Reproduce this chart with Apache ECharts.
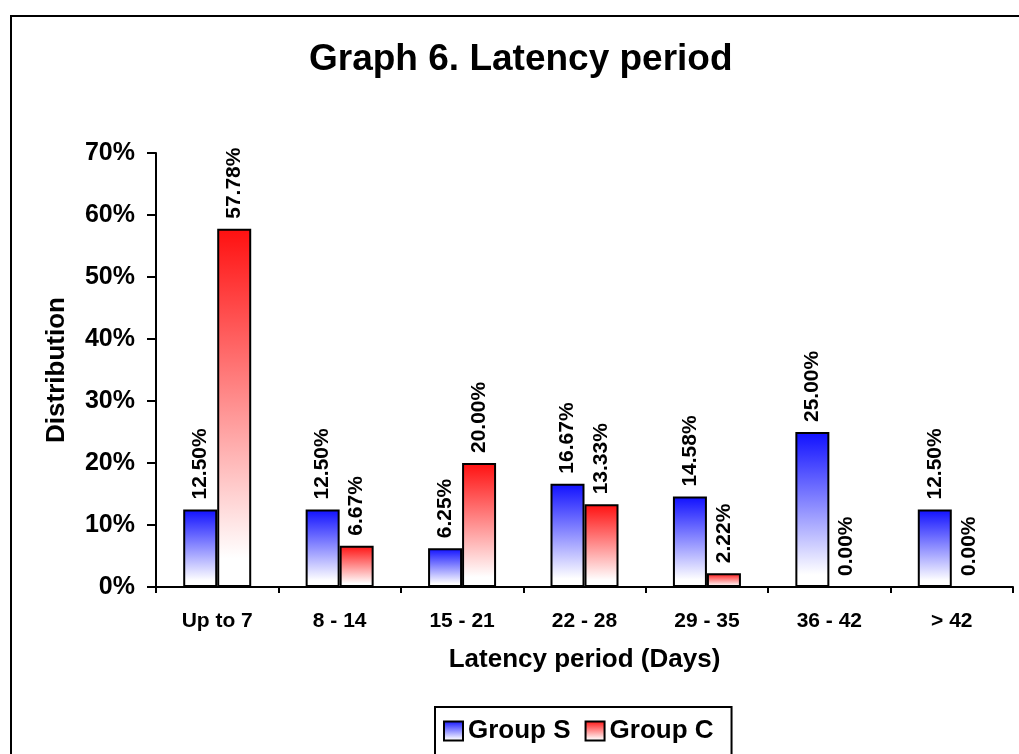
<!DOCTYPE html>
<html>
<head>
<meta charset="utf-8">
<script src="https://cdn.jsdelivr.net/npm/echarts@6/dist/echarts.min.js"></script>
<style>
  html, body { margin: 0; padding: 0; background: #fff; }
  #chart { width: 1019px; height: 754px; }
</style>
</head>
<body>
<div id="chart"></div>
<script>
const categories = ['Up to 7', '8 - 14', '15 - 21', '22 - 28', '29 - 35', '36 - 42', '> 42'];
const groupS = [12.50, 12.50, 6.25, 16.67, 14.58, 25.00, 12.50];
const groupC = [57.78, 6.67, 20.00, 13.33, 2.22, 0.00, 0.00];
const seriesNames = ['Group S', 'Group C'];

const FONT = '"Liberation Sans", Arial, sans-serif';

const mychart = echarts.init(document.getElementById('chart'));

// excel style vertical fade: strong colour at top, white at the base
const fade = (top) => new echarts.graphic.LinearGradient(0, 0, 0, 1, [
  { offset: 0, color: top },
  { offset: 0.92, color: '#ffffff' },
  { offset: 1, color: '#ffffff' }
]);

const barLabel = {
  show: true,
  position: 'top',
  distance: 10,
  rotate: 90,
  align: 'left',
  verticalAlign: 'middle',
  fontFamily: FONT,
  fontSize: 21,
  fontWeight: 'bold',
  color: '#000',
  formatter: (p) => p.value.toFixed(2) + '%'
};

const option = {
  animation: false,
  backgroundColor: '#fff',
  textStyle: { fontFamily: FONT },
  title: {
    text: 'Graph 6. Latency period',
    left: 309,
    top: 41,
    padding: 0,
    textStyle: { fontFamily: FONT, fontSize: 37, fontWeight: 'bold', color: '#000' }
  },
  graphic: [{
    type: 'rect',
    shape: { x: 11, y: 16, width: 1100, height: 800 },
    style: { fill: 'none', stroke: '#000', lineWidth: 2 },
    silent: true
  }],
  grid: { left: 156, right: 6, top: 153, bottom: 167 },
  legend: {
    left: 435,
    top: 707,
    padding: [11, 18, 14, 8],
    itemGap: 14,
    itemWidth: 19,
    itemHeight: 19,
    borderColor: '#000',
    borderWidth: 2,
    icon: 'rect',
    textStyle: { fontFamily: FONT, fontSize: 26, fontWeight: 'bold', color: '#000' },
    data: seriesNames
  },
  xAxis: {
    type: 'category',
    data: categories,
    name: 'Latency period (Days)',
    nameLocation: 'middle',
    nameGap: 60,
    nameTextStyle: { fontFamily: FONT, fontSize: 26, fontWeight: 'bold', color: '#000' },
    axisLine: { lineStyle: { color: '#000', width: 2 } },
    axisTick: { show: true, length: 6, lineStyle: { color: '#000', width: 2 } },
    axisLabel: { margin: 24, fontFamily: FONT, fontSize: 21, fontWeight: 'bold', color: '#000' }
  },
  yAxis: {
    type: 'value',
    min: 0,
    max: 70,
    interval: 10,
    name: 'Distribution',
    nameLocation: 'middle',
    nameGap: 86,
    nameTextStyle: { fontFamily: FONT, fontSize: 26, fontWeight: 'bold', color: '#000' },
    axisLine: { show: true, lineStyle: { color: '#000', width: 2 } },
    axisTick: { show: true, length: 9, lineStyle: { color: '#000', width: 2 } },
    splitLine: { show: false },
    axisLabel: {
      margin: 21,
      formatter: '{value}%',
      fontFamily: FONT,
      fontSize: 25,
      fontWeight: 'bold',
      color: '#000'
    }
  },
  series: [
    {
      name: seriesNames[0],
      type: 'bar',
      barWidth: 34,
      barGap: '0%',
      data: groupS,
      itemStyle: { color: fade('#1010ff'), borderColor: '#000', borderWidth: 2 },
      label: barLabel
    },
    {
      name: seriesNames[1],
      type: 'bar',
      barWidth: 34,
      barGap: '0%',
      data: groupC,
      itemStyle: { color: fade('#ff1010'), borderColor: '#000', borderWidth: 2 },
      label: barLabel
    }
  ]
};

mychart.setOption(option);
</script>
</body>
</html>
